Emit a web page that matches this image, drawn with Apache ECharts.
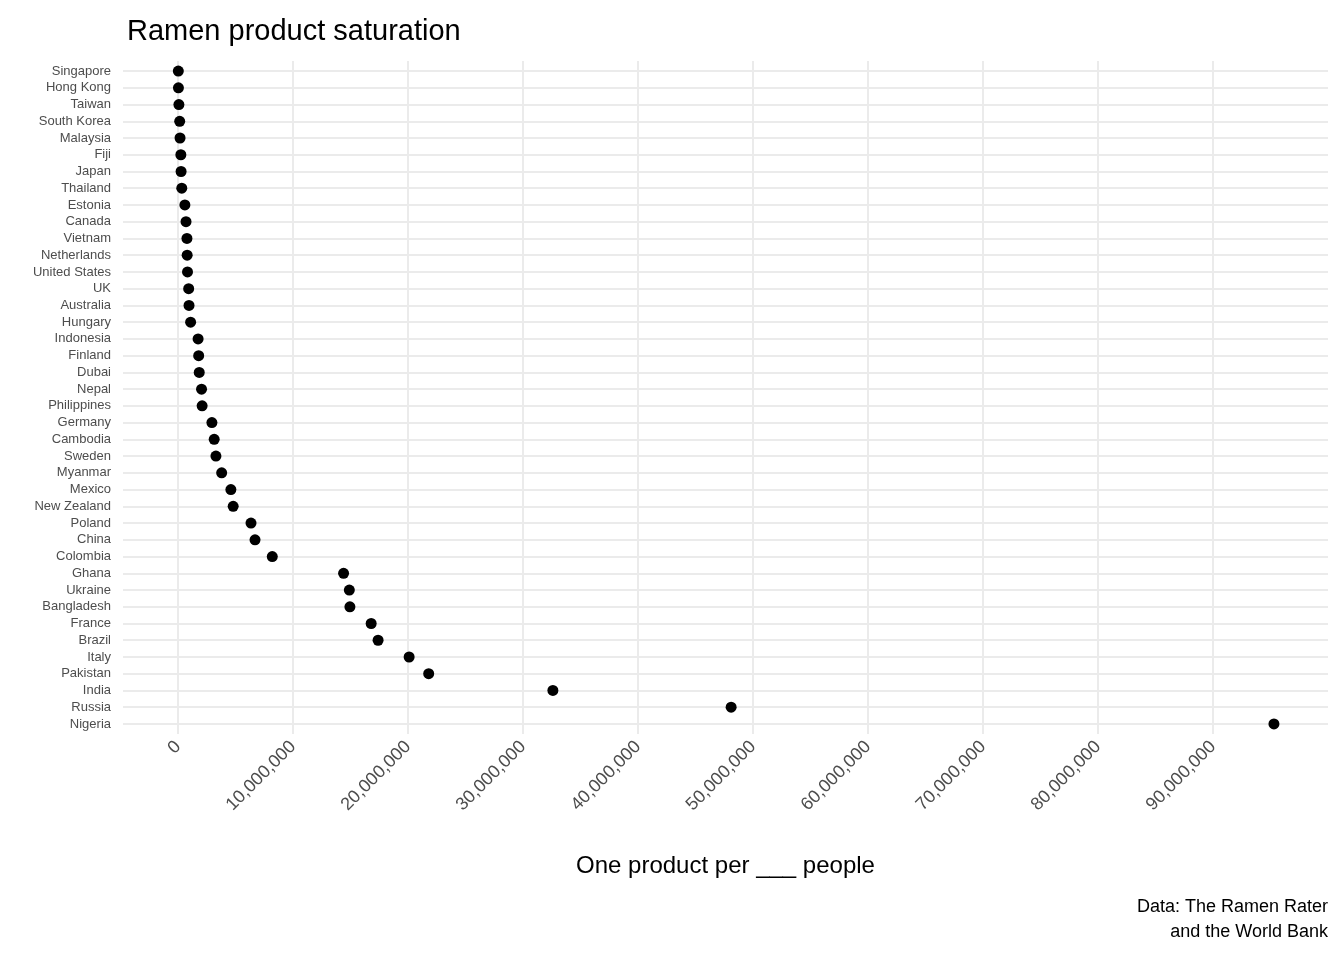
<!DOCTYPE html>
<html>
<head>
<meta charset="utf-8">
<title>Ramen product saturation</title>
<script src="https://cdn.jsdelivr.net/npm/echarts@6/dist/echarts.min.js"></script>
<style>body{margin:0}#main{width:1344px;height:960px}</style>
</head>
<body>
<div id="main"></div>
<script>
var countries = ['Singapore','Hong Kong','Taiwan','South Korea','Malaysia','Fiji','Japan','Thailand','Estonia','Canada','Vietnam','Netherlands','United States','UK','Australia','Hungary','Indonesia','Finland','Dubai','Nepal','Philippines','Germany','Cambodia','Sweden','Myanmar','Mexico','New Zealand','Poland','China','Colombia','Ghana','Ukraine','Bangladesh','France','Brazil','Italy','Pakistan','India','Russia','Nigeria'];
var peoplePerProduct = [30000,40000,80000,150000,180000,250000,270000,330000,600000,700000,780000,800000,830000,930000,960000,1100000,1750000,1800000,1850000,2050000,2100000,2950000,3150000,3300000,3800000,4600000,4800000,6350000,6700000,8200000,14400000,14900000,14950000,16800000,17400000,20100000,21800000,32600000,48100000,95300000];
var xTicks = [0,10000000,20000000,30000000,40000000,50000000,60000000,70000000,80000000,90000000];

var yTicks = [];
for (var i = 0; i < countries.length; i++) yTicks.push(i);
var points = [];
for (var i = 0; i < countries.length; i++) points.push([peoplePerProduct[i], i]);

var myChart = echarts.init(document.getElementById('main'));
var font = 'Liberation Sans, Arial, sans-serif';
option = {
    animation: false,
    textStyle: { fontFamily: font },
    title: {
        text: 'Ramen product saturation', left: 122, top: 12,
        textStyle: { fontSize: 29, fontWeight: 'normal', color: '#000', fontFamily: font }
    },
    graphic: [{
        type: 'text', right: 16, top: 895,
        style: { text: 'Data: The Ramen Rater\nand the World Bank', fontSize: 18, fill: '#000', textAlign: 'right', align: 'right', lineHeight: 25, font: '18px ' + font }
    }],
    grid: { left: 123, right: 16, top: 61, bottom: 226 },
    xAxis: {
        type: 'value', min: -4780000, max: 100000000,
        name: 'One product per ___ people', nameLocation: 'middle', nameGap: 120,
        nameTextStyle: { fontSize: 24, color: '#000' },
        axisLine: { show: false },
        axisTick: { show: false, customValues: xTicks },
        axisLabel: {
            customValues: xTicks, rotate: 45, fontSize: 18, color: '#4d4d4d', margin: 10,
            formatter: function (v) { return v.toLocaleString('en-US'); }
        },
        splitLine: { show: true, lineStyle: { color: '#ebebeb', width: 2 } }
    },
    yAxis: {
        type: 'value', inverse: true, min: -0.6, max: countries.length - 0.4,
        axisLine: { show: false },
        axisTick: { show: false, customValues: yTicks },
        axisLabel: {
            customValues: yTicks, fontSize: 13, color: '#4d4d4d', margin: 12,
            formatter: function (v) { return countries[Math.round(v)]; }
        },
        splitLine: { show: true, lineStyle: { color: '#ebebeb', width: 2 } }
    },
    series: [{
        type: 'scatter', symbolSize: 11,
        itemStyle: { color: '#000', opacity: 1 },
        data: points
    }]
};
myChart.setOption(option);
</script>
</body>
</html>
